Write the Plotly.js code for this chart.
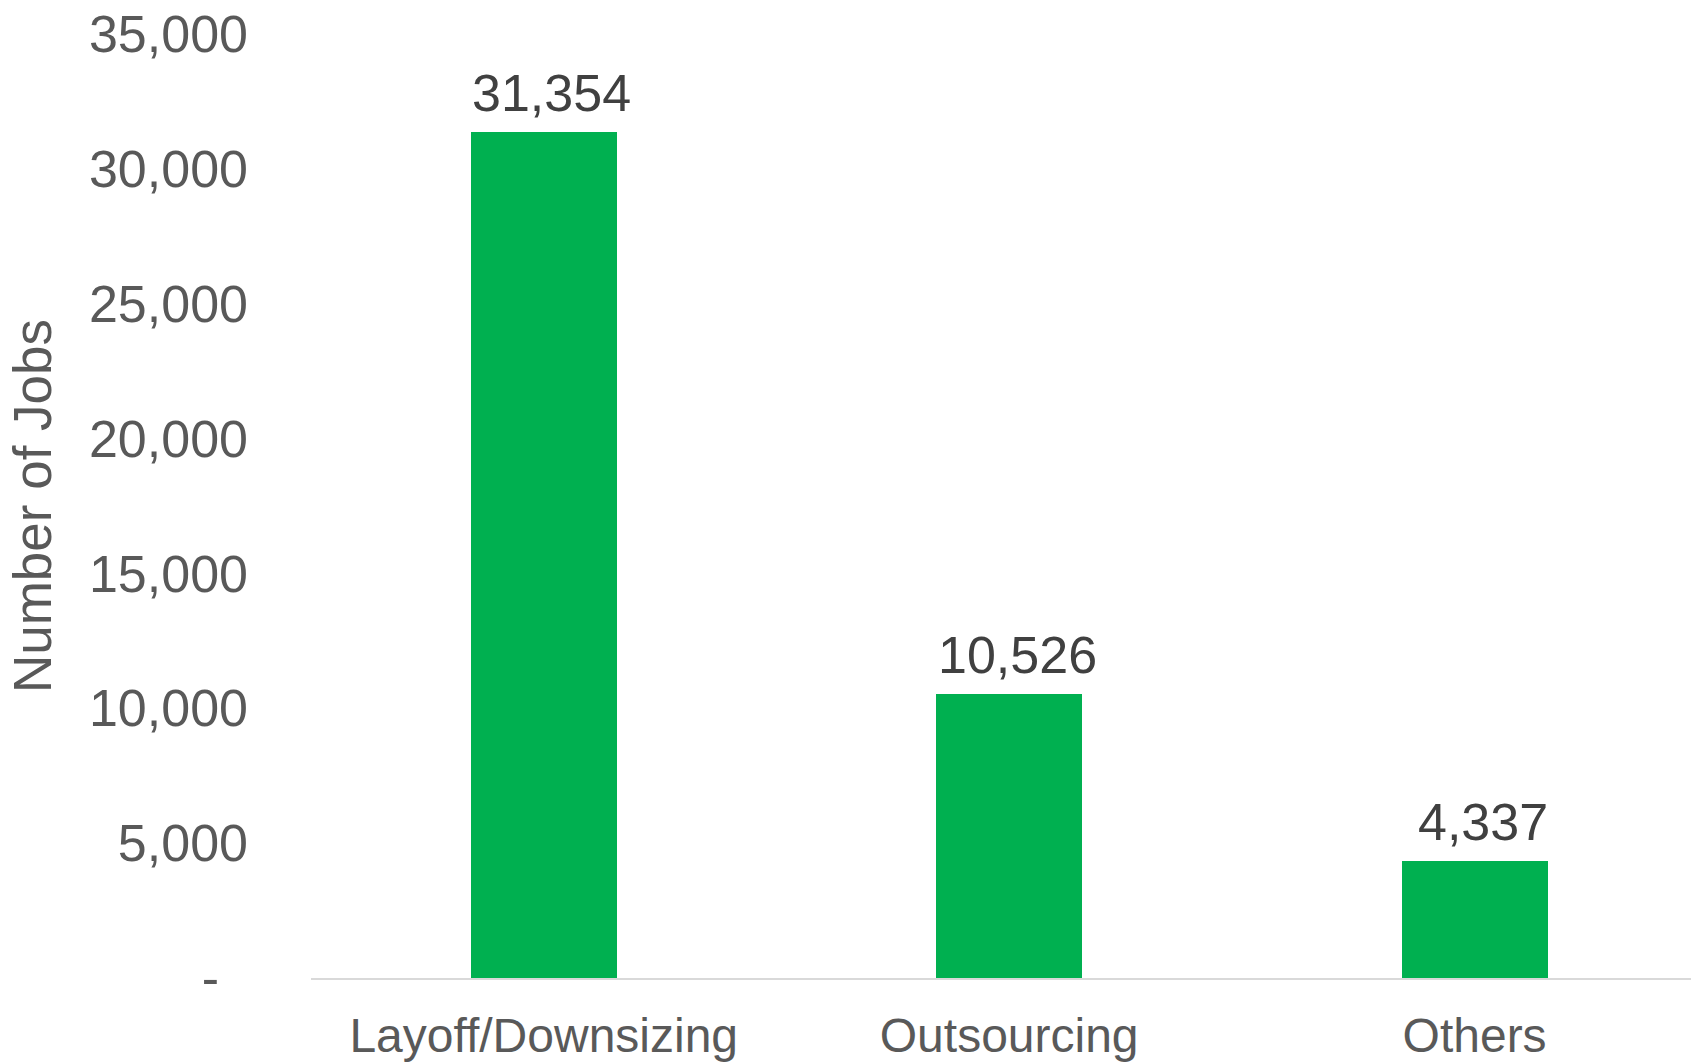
<!DOCTYPE html>
<html>
<head>
<meta charset="utf-8">
<script src="https://cdn.plot.ly/plotly-3.0.1.min.js"></script>
<style>html,body{margin:0;padding:0;background:#fff;}#chart{width:1691px;height:1062px;}</style>
</head>
<body>
<div id="chart"></div>
<script>
const categories = ["Layoff/Downsizing", "Outsourcing", "Others"];
const jobs = [31354, 10526, 4337];
const yTickVals = [0, 5000, 10000, 15000, 20000, 25000, 30000, 35000];
const yTickText = ["-\u00a0\u00a0", "5,000", "10,000", "15,000", "20,000", "25,000", "30,000", "35,000"];

const fontFam = "Liberation Sans, Arial, sans-serif";

const trace = {
  type: "bar",
  x: categories,
  y: jobs,
  width: 0.314,
  marker: {color: "#00B050"},
  hoverinfo: "skip"
};

const annotations = categories.map((c, i) => ({
  x: c, y: jobs[i], xref: "x", yref: "y",
  text: jobs[i].toLocaleString("en-US"),
  showarrow: false, xanchor: "center", yanchor: "bottom",
  xshift: 8, yshift: 8,
  font: {family: fontFam, size: 52, color: "#404040"}
}));

const layout = {
  width: 1691, height: 1062,
  margin: {l: 311, r: 0, t: 34, b: 84, autoexpand: false},
  paper_bgcolor: "#ffffff", plot_bgcolor: "#ffffff",
  showlegend: false,
  bargap: 0,
  xaxis: {
    type: "category",
    range: [-0.5, 2.465],
    showgrid: false, zeroline: false,
    showline: true, linecolor: "#d9d9d9", linewidth: 2,
    ticks: "", ticklabelstandoff: 14,
    tickfont: {family: fontFam, size: 48, color: "#595959"},
    automargin: false
  },
  yaxis: {
    range: [0, 35000],
    tickvals: yTickVals, ticktext: yTickText,
    showgrid: false, zeroline: false, showline: false,
    ticks: "", ticklabelstandoff: 62,
    tickfont: {family: fontFam, size: 52, color: "#595959"},
    title: {text: "Number of Jobs", standoff: 20, font: {family: fontFam, size: 53, color: "#595959"}},
    automargin: false
  },
  annotations: annotations
};

Plotly.newPlot("chart", [trace], layout, {staticPlot: true, displayModeBar: false});
</script>
</body>
</html>
